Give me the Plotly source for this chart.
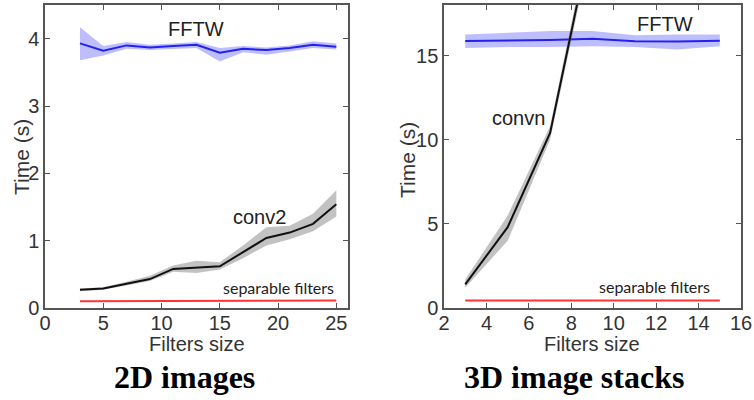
import plotly.graph_objects as go

# ---- 2D images ----
sizes_2d = [3, 5, 7, 9, 11, 13, 15, 17, 19, 21, 23, 25]
fftw_2d = [3.93, 3.82, 3.90, 3.87, 3.89, 3.91, 3.79, 3.85, 3.83, 3.86, 3.91, 3.88]
fftw_2d_lo = [3.68, 3.75, 3.85, 3.83, 3.85, 3.86, 3.66, 3.80, 3.76, 3.81, 3.86, 3.84]
fftw_2d_hi = [4.17, 3.89, 3.95, 3.91, 3.93, 3.95, 3.86, 3.89, 3.87, 3.90, 3.96, 3.93]
conv2 = [0.27, 0.29, 0.36, 0.43, 0.58, 0.60, 0.62, 0.83, 1.04, 1.12, 1.25, 1.54]
conv2_lo = [0.25, 0.27, 0.33, 0.40, 0.54, 0.52, 0.57, 0.74, 0.93, 1.02, 1.14, 1.36]
conv2_hi = [0.29, 0.31, 0.39, 0.48, 0.63, 0.70, 0.68, 0.93, 1.20, 1.22, 1.40, 1.75]
sep_2d = [0.10, 0.10, 0.10, 0.10, 0.10, 0.10, 0.10, 0.10, 0.11, 0.11, 0.11, 0.11]

# ---- 3D image stacks ----
sizes_3d = [3, 5, 7, 9, 11, 13, 15]
fftw_3d = [15.86, 15.88, 15.92, 16.00, 15.84, 15.83, 15.88]
fftw_3d_lo = [15.45, 15.50, 15.50, 15.55, 15.50, 15.35, 15.55]
fftw_3d_hi = [16.25, 16.35, 16.45, 16.45, 16.20, 16.25, 16.25]
conv_sizes_3d = [3, 5, 7, 9]
convn = [1.4, 4.8, 10.4, 22.4]
convn_lo = [1.2, 4.0, 10.0, 21.8]
convn_hi = [1.7, 5.5, 10.8, 23.0]
sep_3d = [0.45, 0.45, 0.45, 0.45, 0.45, 0.45, 0.45]

fig = go.Figure()

def band(x, lo, hi, color, xa, ya):
    fig.add_trace(go.Scatter(x=list(x) + list(x)[::-1], y=list(hi) + list(lo)[::-1],
                             fill="toself", fillcolor=color, line=dict(width=0),
                             mode="lines", hoverinfo="skip", showlegend=False,
                             xaxis=xa, yaxis=ya))

def line(x, y, color, xa, ya):
    fig.add_trace(go.Scatter(x=x, y=y, mode="lines", line=dict(color=color, width=2),
                             showlegend=False, xaxis=xa, yaxis=ya))

BLUE = "#2222ee"
BLUE_BAND = "rgba(110,110,255,0.45)"
GRAY_BAND = "rgba(120,120,120,0.45)"
RED = "#ff3333"

band(sizes_2d, fftw_2d_lo, fftw_2d_hi, BLUE_BAND, "x", "y")
line(sizes_2d, fftw_2d, BLUE, "x", "y")
band(sizes_2d, conv2_lo, conv2_hi, GRAY_BAND, "x", "y")
line(sizes_2d, conv2, "#111111", "x", "y")
line(sizes_2d, sep_2d, RED, "x", "y")

band(sizes_3d, fftw_3d_lo, fftw_3d_hi, BLUE_BAND, "x2", "y2")
line(sizes_3d, fftw_3d, BLUE, "x2", "y2")
band(conv_sizes_3d, convn_lo, convn_hi, GRAY_BAND, "x2", "y2")
line(conv_sizes_3d, convn, "#111111", "x2", "y2")
line(sizes_3d, sep_3d, RED, "x2", "y2")

ax_common = dict(showgrid=False, zeroline=False, showline=True, linecolor="#555555",
                 linewidth=1.5, mirror="ticks", ticks="inside", ticklen=5, automargin=False,
                 tickcolor="#555555", tickfont=dict(family="Liberation Sans", size=20, color="#333333"))

fig.update_layout(
    width=754, height=400, margin=dict(l=0, r=0, t=0, b=0, autoexpand=False),
    paper_bgcolor="white", plot_bgcolor="white",
    xaxis=dict(domain=[0.0597, 0.4615], range=[0, 26], tickvals=[0, 5, 10, 15, 20, 25], anchor="y",
               ticklabelstandoff=-4, **ax_common),
    yaxis=dict(domain=[0.23, 0.9875], range=[0, 4.5], tickvals=[0, 1, 2, 3, 4], anchor="x", **ax_common),
    xaxis2=dict(domain=[0.5889, 0.9828], range=[2, 16], tickvals=[2, 4, 6, 8, 10, 12, 14, 16], anchor="y2",
                ticklabelstandoff=-4, **ax_common),
    yaxis2=dict(domain=[0.23, 0.9875], range=[0, 18], tickvals=[0, 5, 10, 15], anchor="x2", **ax_common),
)

ann = []
def label(text, x, y, xref, yref, size, family="Liberation Sans", color="#222222", angle=0, bold=False):
    ann.append(dict(text=f"<b>{text}</b>" if bold else text, x=x, y=y, xref=xref, yref=yref,
                    showarrow=False, textangle=angle,
                    font=dict(family=family, size=size, color=color),
                    xanchor="center", yanchor="middle"))

label("FFTW", 13.0, 4.15, "x", "y", 20)
label("conv2", 18.4, 1.35, "x", "y", 20)
label("separable filters", 20.0, 0.31, "x", "y", 16, family="Lato")
label("FFTW", 12.4, 16.9, "x2", "y2", 20)
label("convn", 5.5, 11.3, "x2", "y2", 20)
label("separable filters", 11.9, 1.3, "x2", "y2", 16, family="Lato")

label("Time (s)", 21 / 754, 1 - 157 / 400, "paper", "paper", 21, color="#333333", angle=-90)
label("Time (s)", 407 / 754, 1 - 160 / 400, "paper", "paper", 21, color="#333333", angle=-90)
label("Filters size", 197 / 754, 1 - 344 / 400, "paper", "paper", 20, color="#333333")
label("Filters size", 592 / 754, 1 - 344 / 400, "paper", "paper", 20, color="#333333")
label("2D images", 184 / 754, 1 - 377 / 400, "paper", "paper", 32, family="Liberation Serif", color="black", bold=True)
label("3D image stacks", 574 / 754, 1 - 377 / 400, "paper", "paper", 32, family="Liberation Serif", color="black", bold=True)

fig.update_layout(annotations=ann)
fig.write_html("out.html", config={"displayModeBar": False},
               post_script="document.body.style.margin='0';document.body.style.overflow='hidden';")
